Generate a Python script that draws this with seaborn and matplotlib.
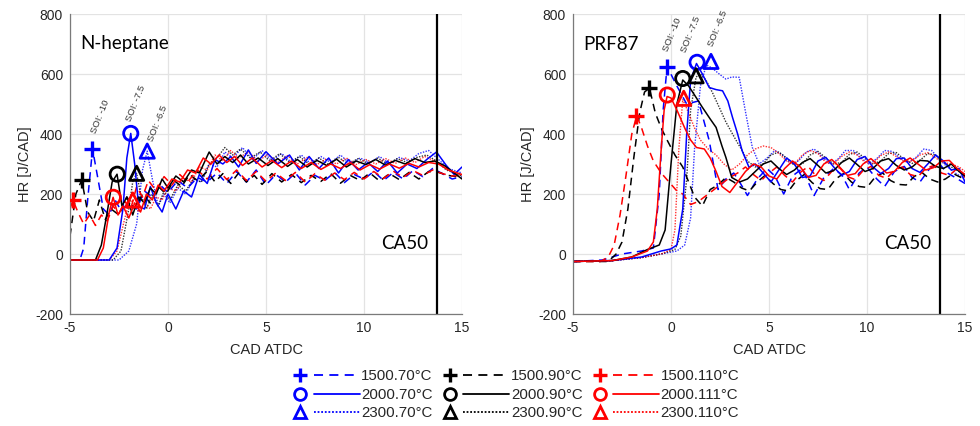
import matplotlib
matplotlib.use("Agg")
import matplotlib.pyplot as plt
from matplotlib.lines import Line2D
from matplotlib.legend_handler import HandlerBase
import seaborn as sns
import pandas as pd

# ---------------- data: N-heptane (left) ----------------
L_x_1500_70 = [-5, -4.5, -4.3, -4.1, -3.85, -3.6, -3.3, -3.0, -2.7, -2.4, -2.0, -1.6, -1.2, -0.8, -0.4, 0.0, 0.5, 1.0, 1.5, 2.0, 2.5, 3.0, 3.5, 4.0, 4.5, 5.0, 5.5, 6.0, 6.5, 7.0, 7.5, 8.0, 8.5, 9.0, 9.5, 10.0, 10.5, 11.0, 11.5, 12.0, 12.5, 13.0, 13.5, 14.0, 14.5, 15.0]
L_y_1500_70 = [-20, -20, 20, 180, 350, 260, 150, 130, 180, 145, 170, 150, 210, 190, 230, 205, 245, 220, 255, 240, 270, 235, 275, 240, 280, 230, 265, 240, 270, 230, 262, 245, 272, 238, 265, 250, 275, 245, 272, 250, 278, 258, 285, 268, 250, 258]
L_x_1500_90 = [-5, -4.7, -4.4, -4.1, -3.8, -3.5, -3.2, -2.9, -2.5, -2.1, -1.7, -1.3, -0.9, -0.5, -0.1, 0.3, 0.7, 1.1, 1.5, 2.0, 2.4, 2.8, 3.2, 3.6, 4.0, 4.4, 4.8, 5.3, 5.8, 6.3, 6.8, 7.3, 7.8, 8.3, 8.8, 9.3, 9.8, 10.3, 10.8, 11.3, 11.8, 12.3, 12.8, 13.3, 13.8, 14.3, 15.0]
L_y_1500_90 = [60, 200, 247, 140, 110, 180, 115, 150, 130, 190, 150, 200, 170, 225, 200, 245, 225, 265, 245, 275, 240, 268, 235, 270, 240, 262, 232, 268, 240, 265, 238, 262, 242, 268, 236, 262, 245, 270, 243, 268, 248, 272, 250, 275, 272, 262, 255]
L_x_1500_110 = [-5, -4.85, -4.6, -4.3, -4.0, -3.7, -3.4, -3.1, -2.8, -2.5, -2.2, -1.9, -1.6, -1.3, -1.0, -0.6, -0.2, 0.2, 0.6, 1.0, 1.5, 2.0, 2.5, 3.0, 3.5, 4.0, 4.5, 5.0, 5.5, 6.0, 6.5, 7.0, 7.5, 8.0, 8.5, 9.0, 9.5, 10.0, 10.5, 11.0, 11.5, 12.0, 12.5, 13.0, 13.5, 14.0, 14.5, 15.0]
L_y_1500_110 = [150, 180, 140, 100, 130, 95, 130, 110, 160, 135, 175, 150, 225, 190, 245, 210, 258, 230, 265, 240, 280, 250, 285, 248, 280, 245, 275, 242, 270, 245, 272, 240, 268, 246, 270, 248, 272, 250, 275, 252, 276, 255, 278, 262, 280, 268, 260, 262]
L_x_2000_70 = [-5, -3.0, -2.6, -2.3, -2.1, -1.9, -1.7, -1.5, -1.2, -0.9, -0.6, -0.3, 0.0, 0.4, 0.8, 1.2, 1.6, 2.0, 2.4, 2.8, 3.2, 3.6, 4.1, 4.5, 5.0, 5.6, 6.2, 6.7, 7.2, 7.7, 8.2, 8.7, 9.2, 9.7, 10.2, 10.7, 11.2, 11.7, 12.2, 12.7, 13.2, 13.7, 14.2, 14.6, 15.0]
L_y_2000_70 = [-20, -20, 20, 150, 320, 402, 300, 160, 150, 225, 170, 140, 200, 150, 210, 190, 265, 235, 315, 300, 325, 290, 347, 302, 341, 300, 330, 280, 325, 285, 320, 270, 315, 280, 305, 275, 310, 270, 300, 285, 315, 340, 295, 265, 290]
L_x_2000_90 = [-5, -3.7, -3.4, -3.1, -2.85, -2.6, -2.35, -2.1, -1.8, -1.5, -1.2, -0.9, -0.6, -0.3, 0.0, 0.4, 0.8, 1.2, 1.6, 2.1, 2.5, 2.9, 3.3, 3.7, 4.1, 4.6, 5.1, 5.6, 6.1, 6.6, 7.1, 7.6, 8.1, 8.6, 9.1, 9.6, 10.1, 10.6, 11.1, 11.6, 12.1, 12.6, 13.1, 13.6, 14.1, 14.6, 15.0]
L_y_2000_90 = [-20, -20, 30, 140, 240, 266, 160, 190, 130, 190, 170, 220, 200, 250, 220, 260, 240, 280, 270, 340, 300, 325, 305, 330, 300, 320, 295, 318, 292, 315, 290, 312, 295, 316, 290, 310, 298, 315, 296, 312, 300, 318, 305, 310, 295, 270, 250]
L_x_2000_111 = [-5, -3.6, -3.3, -3.0, -2.8, -2.55, -2.3, -2.0, -1.7, -1.4, -1.1, -0.8, -0.5, -0.2, 0.2, 0.6, 1.0, 1.4, 1.8, 2.2, 2.6, 3.0, 3.4, 3.8, 4.3, 4.8, 5.3, 5.8, 6.3, 6.8, 7.3, 7.8, 8.3, 8.8, 9.3, 9.8, 10.3, 10.8, 11.3, 11.8, 12.3, 12.8, 13.3, 13.8, 14.3, 15.0]
L_y_2000_111 = [-20, -20, 20, 140, 189, 130, 160, 120, 170, 140, 200, 180, 230, 210, 250, 240, 280, 270, 320, 300, 330, 305, 325, 295, 320, 290, 312, 288, 310, 285, 305, 282, 300, 285, 305, 280, 298, 283, 300, 286, 302, 290, 305, 300, 280, 265]
L_x_2300_70 = [-5, -2.5, -2.0, -1.6, -1.3, -1.06, -0.8, -0.5, -0.2, 0.1, 0.5, 0.9, 1.3, 1.7, 2.1, 2.5, 2.9, 3.3, 3.8, 4.3, 4.8, 5.3, 5.8, 6.3, 6.8, 7.3, 7.8, 8.3, 8.8, 9.3, 9.8, 10.3, 10.8, 11.3, 11.8, 12.3, 12.8, 13.3, 13.8, 14.3, 15.0]
L_y_2300_70 = [-20, -20, 10, 100, 280, 343, 250, 160, 200, 170, 220, 200, 250, 240, 300, 290, 340, 320, 355, 315, 345, 310, 335, 305, 330, 300, 325, 305, 330, 300, 320, 305, 325, 300, 322, 310, 335, 345, 315, 285, 270]
L_x_2300_90 = [-5, -2.8, -2.4, -2.0, -1.8, -1.6, -1.4, -1.1, -0.8, -0.5, -0.2, 0.1, 0.5, 0.9, 1.3, 1.7, 2.1, 2.5, 2.9, 3.3, 3.7, 4.2, 4.7, 5.2, 5.7, 6.2, 6.7, 7.2, 7.7, 8.2, 8.7, 9.2, 9.7, 10.2, 10.7, 11.2, 11.7, 12.2, 12.7, 13.2, 13.7, 14.2, 15.0]
L_y_2300_90 = [-20, -20, 10, 150, 240, 269, 200, 150, 200, 160, 210, 180, 230, 210, 250, 240, 300, 320, 355, 330, 350, 320, 340, 310, 335, 305, 325, 300, 320, 298, 322, 300, 318, 302, 320, 300, 318, 305, 322, 330, 310, 280, 260]
L_x_2300_110 = [-5, -3.0, -2.6, -2.2, -2.0, -1.8, -1.5, -1.2, -0.9, -0.6, -0.3, 0.0, 0.4, 0.8, 1.2, 1.6, 2.0, 2.4, 2.8, 3.2, 3.6, 4.1, 4.6, 5.1, 5.6, 6.1, 6.6, 7.1, 7.6, 8.1, 8.6, 9.1, 9.6, 10.1, 10.6, 11.1, 11.6, 12.1, 12.6, 13.1, 13.6, 14.1, 14.6, 15.0]
L_y_2300_110 = [-20, -20, 10, 120, 170, 180, 140, 170, 150, 190, 180, 220, 210, 250, 240, 290, 280, 330, 310, 345, 320, 340, 310, 332, 305, 328, 300, 322, 298, 318, 300, 320, 298, 315, 300, 318, 302, 320, 305, 325, 310, 290, 270, 262]

# peak markers (left), order: 1500/2000/2300 x 70/90/110
L_mark_x = [-3.86, -1.9, -1.06, -4.4, -2.59, -1.6, -4.83, -2.79, -1.8]
L_mark_y = [350, 402, 343, 247, 266, 269, 180, 189, 180]

# ---------------- data: PRF87 (right) ----------------
R_x_1500_70 = [-5, -3.5, -2.5, -1.5, -0.9, -0.6, -0.4, -0.2, 0.3, 0.8, 1.4, 1.95, 2.4, 2.8, 3.2, 3.5, 3.9, 4.4, 4.9, 5.3, 5.75, 6.2, 6.7, 7.3, 7.8, 8.3, 8.7, 9.1, 9.6, 10.0, 10.5, 10.9, 11.4, 11.9, 12.3, 12.7, 13.2, 13.7, 14.1, 14.5, 15.0]
R_y_1500_70 = [-25, -20, 0, 10, 20, 200, 480, 625, 560, 500, 510, 378, 215, 250, 270, 240, 195, 250, 285, 260, 200, 260, 285, 195, 255, 285, 265, 215, 270, 290, 250, 225, 275, 292, 255, 240, 285, 300, 270, 255, 235]
R_x_1500_90 = [-5, -3.2, -2.8, -2.5, -2.2, -1.9, -1.6, -1.35, -1.1, -0.8, -0.5, -0.2, 0.2, 0.6, 0.9, 1.2, 1.6, 2.0, 2.4, 2.8, 3.2, 3.6, 4.0, 4.4, 4.8, 5.2, 5.6, 6.0, 6.4, 6.8, 7.2, 7.6, 8.0, 8.4, 8.8, 9.2, 9.6, 10.0, 10.4, 10.8, 11.2, 11.6, 12.0, 12.4, 12.8, 13.2, 13.6, 14.0, 14.4, 14.8, 15.0]
R_y_1500_90 = [-25, -25, 0, 40, 150, 320, 470, 540, 553, 470, 420, 380, 330, 290, 240, 190, 160, 215, 230, 255, 240, 220, 210, 240, 262, 235, 215, 210, 245, 265, 238, 218, 215, 250, 268, 240, 225, 222, 255, 270, 245, 232, 230, 258, 272, 250, 240, 250, 268, 255, 250]
R_x_1500_110 = [-5, -3.6, -3.2, -2.9, -2.6, -2.3, -2.0, -1.75, -1.5, -1.2, -0.9, -0.5, -0.1, 0.3, 0.6, 1.0, 1.4, 1.8, 2.2, 2.6, 3.0, 3.4, 3.8, 4.2, 4.6, 5.0, 5.4, 5.8, 6.2, 6.6, 7.0, 7.4, 7.8, 8.2, 8.6, 9.0, 9.4, 9.8, 10.2, 10.6, 11.0, 11.4, 11.8, 12.2, 12.6, 13.0, 13.4, 13.8, 14.2, 14.6, 15.0]
R_y_1500_110 = [-25, -25, -10, 30, 130, 260, 400, 461, 420, 360, 310, 270, 240, 210, 200, 165, 175, 195, 215, 235, 255, 270, 290, 265, 245, 270, 290, 262, 240, 272, 292, 260, 245, 275, 288, 258, 248, 278, 292, 262, 252, 280, 290, 265, 258, 285, 295, 270, 262, 285, 255]
R_x_2000_70 = [-5, -3.0, -1.5, -0.5, 0.0, 0.3, 0.6, 0.8, 1.0, 1.3, 1.6, 1.95, 2.3, 2.63, 2.9, 3.14, 3.4, 3.63, 3.98, 4.3, 4.7, 5.1, 5.5, 5.9, 6.3, 6.7, 7.1, 7.5, 7.9, 8.3, 8.7, 9.1, 9.5, 9.9, 10.3, 10.7, 11.1, 11.5, 11.9, 12.3, 12.7, 13.1, 13.5, 13.9, 14.3, 14.7, 15.0]
R_y_2000_70 = [-25, -22, -10, 10, 17, 30, 150, 400, 580, 635, 600, 555, 548, 544, 510, 455, 400, 344, 289, 300, 270, 240, 280, 320, 300, 255, 260, 310, 322, 290, 262, 275, 315, 325, 290, 268, 285, 318, 320, 285, 272, 300, 330, 310, 280, 285, 240]
R_x_2000_90 = [-5, -3.0, -2.0, -1.2, -0.6, -0.3, 0.0, 0.3, 0.6, 0.9, 1.2, 1.6, 2.0, 2.3, 2.6, 2.8, 3.1, 3.5, 3.9, 4.3, 4.7, 5.1, 5.5, 5.9, 6.3, 6.7, 7.1, 7.5, 7.9, 8.3, 8.7, 9.1, 9.5, 9.9, 10.3, 10.7, 11.1, 11.5, 11.9, 12.3, 12.7, 13.1, 13.5, 13.9, 14.3, 14.7, 15.0]
R_y_2000_90 = [-25, -22, -10, 15, 30, 80, 300, 500, 580, 560, 530, 489, 450, 422, 360, 322, 255, 240, 250, 275, 300, 310, 285, 265, 280, 305, 318, 295, 270, 278, 305, 320, 298, 275, 285, 310, 318, 295, 280, 290, 312, 310, 292, 285, 300, 275, 260]
R_x_2000_111 = [-5, -3.0, -2.0, -1.2, -0.9, -0.7, -0.5, -0.35, -0.2, 0.0, 0.3, 0.7, 1.0, 1.3, 1.7, 2.0, 2.3, 2.6, 3.0, 3.4, 3.8, 4.2, 4.6, 5.0, 5.4, 5.8, 6.2, 6.6, 7.0, 7.4, 7.8, 8.2, 8.6, 9.0, 9.4, 9.8, 10.2, 10.6, 11.0, 11.4, 11.8, 12.2, 12.6, 13.0, 13.4, 13.8, 14.2, 14.6, 15.0]
R_y_2000_111 = [-25, -22, -10, 10, 40, 150, 350, 480, 525, 520, 480, 420, 380, 355, 350, 320, 275, 225, 205, 240, 275, 300, 290, 260, 250, 285, 310, 290, 255, 262, 300, 315, 290, 262, 268, 300, 318, 295, 270, 275, 305, 320, 300, 280, 288, 310, 312, 285, 265]
R_x_2300_70 = [-5, -3.0, -1.5, -0.5, 0.3, 0.7, 1.0, 1.2, 1.5, 1.8, 2.1, 2.46, 2.8, 3.1, 3.48, 3.82, 4.15, 4.5, 4.9, 5.3, 5.7, 6.1, 6.5, 6.9, 7.3, 7.7, 8.1, 8.5, 8.9, 9.3, 9.7, 10.1, 10.5, 10.9, 11.3, 11.7, 12.1, 12.5, 12.9, 13.3, 13.7, 14.1, 14.5, 15.0]
R_y_2300_70 = [-25, -22, -12, 0, 10, 30, 120, 350, 560, 630, 620, 600, 583, 590, 589, 467, 355, 300, 320, 345, 330, 300, 310, 340, 350, 325, 300, 315, 345, 345, 320, 300, 318, 345, 342, 318, 305, 322, 350, 345, 315, 290, 270, 250]
R_x_2300_90 = [-5, -3.0, -1.5, -0.5, 0.2, 0.5, 0.8, 1.0, 1.28, 1.5, 1.78, 2.1, 2.46, 2.8, 3.14, 3.4, 3.64, 3.9, 4.3, 4.7, 5.1, 5.5, 5.9, 6.3, 6.7, 7.1, 7.5, 7.9, 8.3, 8.7, 9.1, 9.5, 9.9, 10.3, 10.7, 11.1, 11.5, 11.9, 12.3, 12.7, 13.1, 13.5, 13.9, 14.3, 14.7, 15.0]
R_y_2300_90 = [-25, -22, -12, 0, 15, 60, 250, 480, 590, 600, 580, 540, 489, 440, 400, 370, 344, 310, 290, 300, 330, 340, 320, 295, 300, 330, 342, 320, 300, 305, 332, 340, 318, 300, 310, 335, 338, 315, 302, 312, 335, 330, 305, 290, 275, 265]
R_x_2300_110 = [-5, -3.0, -1.5, -0.5, 0.0, 0.2, 0.4, 0.6, 0.9, 1.2, 1.5, 1.9, 2.3, 2.7, 3.1, 3.5, 3.9, 4.3, 4.7, 5.1, 5.5, 5.9, 6.3, 6.7, 7.1, 7.5, 7.9, 8.3, 8.7, 9.1, 9.5, 9.9, 10.3, 10.7, 11.1, 11.5, 11.9, 12.3, 12.7, 13.1, 13.5, 13.9, 14.3, 14.7, 15.0]
R_y_2300_110 = [-25, -22, -12, 0, 15, 80, 350, 515, 470, 420, 380, 350, 330, 300, 280, 300, 330, 350, 360, 355, 335, 310, 300, 330, 345, 335, 305, 300, 325, 340, 330, 305, 302, 328, 340, 325, 308, 310, 330, 338, 320, 305, 300, 290, 275]

R_mark_x = [-0.21, 1.33, 2.04, -1.14, 0.6, 1.28, -1.77, -0.19, 0.65]
R_mark_y = [625, 639, 642, 553, 585, 594, 461, 530, 519]

# labels / annotations
series_labels = ["1500.70°C", "2000.70°C", "2300.70°C",
                 "1500.90°C", "2000.90°C", "2300.90°C",
                 "1500.110°C", "2000.111°C", "2300.110°C"]
panel_titles = ["N-heptane", "PRF87"]
soi_labels = ["SOI: -10", "SOI: -7.5", "SOI: -6.5"]
L_soi_x = [-3.6, -1.8, -0.66]
L_soi_y = [397, 437, 370]
R_soi_x = [-0.05, 0.88, 2.24]
R_soi_y = [670, 669, 686]
ca50_x = [13.7, 13.7]
x_ticks = [-5, 0, 5, 10, 15]
y_ticks = [-200, 0, 200, 400, 600, 800]

# ---------------- styling ----------------
colors = ["#0000ff"] * 3 + ["#000000"] * 3 + ["#ff0000"] * 3
lstyles = [(0, (5, 3.5)), "-", (0, (1, 1))] * 3
markers = ["+", "o", "^"] * 3
lwidths = [1.1, 1.1, 1.0] * 3

sns.set_theme(style="whitegrid")
plt.rcParams["font.family"] = ["Liberation Sans", "DejaVu Sans"]
plt.rcParams["axes.unicode_minus"] = False
TXT = "#262626"

fig = plt.figure(figsize=(9.8, 4.26), dpi=100)
axL = fig.add_axes([70 / 980, 1 - 314 / 426, 392 / 980, 300 / 426])
axR = fig.add_axes([573 / 980, 1 - 314 / 426, 392 / 980, 300 / 426])

left_series = [(L_x_1500_70, L_y_1500_70), (L_x_2000_70, L_y_2000_70), (L_x_2300_70, L_y_2300_70),
               (L_x_1500_90, L_y_1500_90), (L_x_2000_90, L_y_2000_90), (L_x_2300_90, L_y_2300_90),
               (L_x_1500_110, L_y_1500_110), (L_x_2000_111, L_y_2000_111), (L_x_2300_110, L_y_2300_110)]
right_series = [(R_x_1500_70, R_y_1500_70), (R_x_2000_70, R_y_2000_70), (R_x_2300_70, R_y_2300_70),
                (R_x_1500_90, R_y_1500_90), (R_x_2000_90, R_y_2000_90), (R_x_2300_90, R_y_2300_90),
                (R_x_1500_110, R_y_1500_110), (R_x_2000_111, R_y_2000_111), (R_x_2300_110, R_y_2300_110)]


def draw_panel(ax, series, mx, my, title, soi_x, soi_y):
    # dotted first (underneath), then dashed, then solid
    order = [2, 5, 8, 0, 3, 6, 1, 4, 7]
    for i in order:
        xs, ys = series[i]
        df = pd.DataFrame({"x": xs, "y": ys})
        sns.lineplot(data=df, x="x", y="y", ax=ax, color=colors[i], sort=False,
                     estimator=None, lw=lwidths[i], alpha=0.8 if i % 3 == 2 else 1.0)
        ax.lines[-1].set_linestyle(lstyles[i])
    # CA50 line
    sns.lineplot(x=ca50_x, y=[-200, 800], ax=ax, color="black", lw=1.6, estimator=None, sort=False)
    # peak markers
    for i in range(9):
        if markers[i] == "+":
            sns.scatterplot(x=[mx[i]], y=[my[i]], ax=ax, marker="+", s=120, color=colors[i],
                            linewidth=2.4, zorder=5)
        else:
            sns.scatterplot(x=[mx[i]], y=[my[i]], ax=ax, marker=markers[i], s=105,
                            facecolors="none", edgecolor=colors[i], linewidth=2.0, zorder=5)
    ax.set_xlim(-5, 15)
    ax.set_ylim(-200, 800)
    ax.set_xticks(x_ticks)
    ax.set_yticks(y_ticks)
    ax.grid(True, color="#e3e3e3", lw=0.9)
    for s in ["top", "right"]:
        ax.spines[s].set_visible(False)
    for s in ["left", "bottom"]:
        ax.spines[s].set_color("#7a7a7a")
        ax.spines[s].set_linewidth(0.9)
    ax.tick_params(direction="in", length=4, width=0.8, color="#7a7a7a",
                   labelsize=10, labelcolor=TXT, pad=5)
    ax.set_xlabel("CAD ATDC", fontsize=10.5, color=TXT, labelpad=6)
    ax.set_ylabel("HR [J/CAD]", fontsize=10.5, color=TXT, labelpad=2)
    ax.text(-4.5, 700, title, fontsize=13.5, family=["Lato", "DejaVu Sans"], color="black",
            va="center", ha="left")
    ax.text(13.3, 35, "CA50", fontsize=13.5, family=["Lato", "DejaVu Sans"], color="black",
            va="center", ha="right")
    for k in range(3):
        ax.text(soi_x[k], soi_y[k], soi_labels[k], fontsize=6.8, rotation=68,
                rotation_mode="anchor", ha="left", va="bottom", color="#333333")


draw_panel(axL, left_series, L_mark_x, L_mark_y, panel_titles[0], L_soi_x, L_soi_y)
draw_panel(axR, right_series, R_mark_x, R_mark_y, panel_titles[1], R_soi_x, R_soi_y)


class MarkerLineHandler(HandlerBase):
    def create_artists(self, legend, orig_handle, xdescent, ydescent, width, height, fontsize, trans):
        y = height / 2 - ydescent
        x0 = -xdescent
        mk = orig_handle.get_marker()
        m = Line2D([x0 + 0.1 * width], [y], marker=mk, linestyle="none",
                   color=orig_handle.get_color(), markersize=9.5 if mk == "+" else 8.5,
                   markeredgewidth=2.4 if mk == "+" else 2.0, markerfacecolor="none")
        ln = Line2D([x0 + 0.3 * width, x0 + width], [y, y], color=orig_handle.get_color(),
                    linestyle=orig_handle.my_ls, lw=1.3)
        m.set_transform(trans)
        ln.set_transform(trans)
        return [m, ln]


handles = []
for i in range(9):
    h = Line2D([], [], color=colors[i], marker=markers[i])
    h.my_ls = lstyles[i]
    handles.append(h)
fig.legend(handles, series_labels, handler_map={Line2D: MarkerLineHandler()}, ncol=3,
           loc="center", bbox_to_anchor=(0.527, 0.073), frameon=False, fontsize=10.8,
           handlelength=4.4, handletextpad=0.1, columnspacing=0.7, labelspacing=0.3,
           labelcolor=TXT)

fig.savefig("out.png", dpi=100)
